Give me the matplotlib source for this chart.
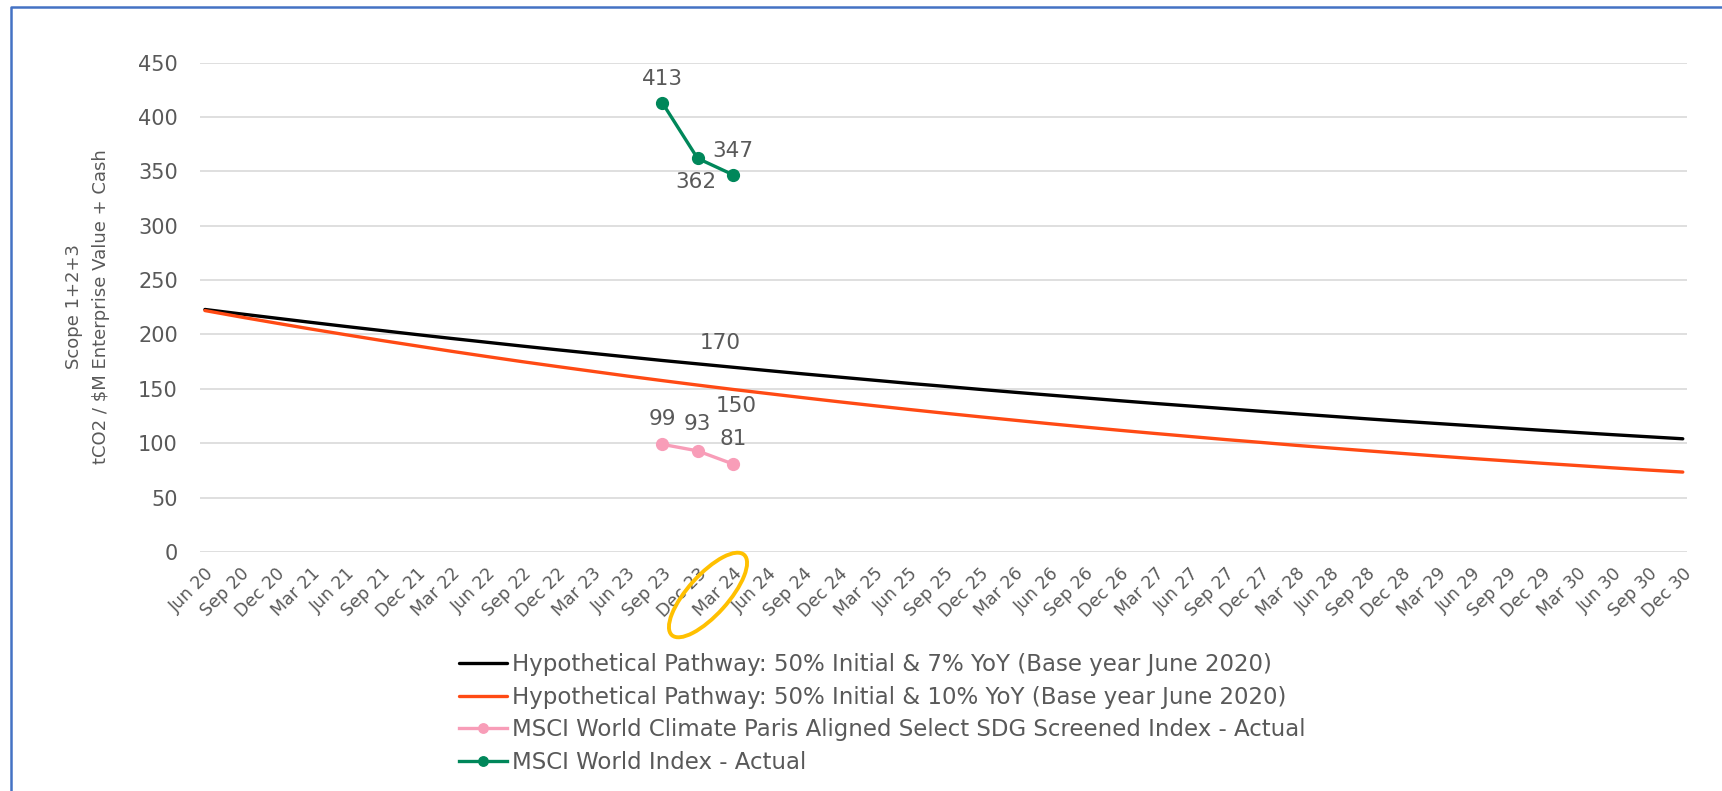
import matplotlib.pyplot as plt
from matplotlib.patches import Ellipse
from matplotlib.lines import Line2D
from matplotlib.transforms import IdentityTransform

# quarterly categories Jun 20 .. Dec 30
quarters = ['Jun 20', 'Sep 20', 'Dec 20',
            'Mar 21', 'Jun 21', 'Sep 21', 'Dec 21',
            'Mar 22', 'Jun 22', 'Sep 22', 'Dec 22',
            'Mar 23', 'Jun 23', 'Sep 23', 'Dec 23',
            'Mar 24', 'Jun 24', 'Sep 24', 'Dec 24',
            'Mar 25', 'Jun 25', 'Sep 25', 'Dec 25',
            'Mar 26', 'Jun 26', 'Sep 26', 'Dec 26',
            'Mar 27', 'Jun 27', 'Sep 27', 'Dec 27',
            'Mar 28', 'Jun 28', 'Sep 28', 'Dec 28',
            'Mar 29', 'Jun 29', 'Sep 29', 'Dec 29',
            'Mar 30', 'Jun 30', 'Sep 30', 'Dec 30']

path_7 = [223, 219.0, 215.1, 211.2, 207.4, 203.7, 200.0, 196.4, 192.9, 189.4,
          186.0, 182.7, 179.4, 176.1, 173.0, 169.9, 166.8, 163.8, 160.9, 158.0,
          155.1, 152.4, 149.6, 146.9, 144.3, 141.7, 139.1, 136.6, 134.2, 131.8,
          129.4, 127.1, 124.8, 122.5, 120.3, 118.2, 116.1, 114.0, 111.9, 109.9,
          107.9, 106.0, 104.1]
path_10 = [222, 216.2, 210.6, 205.1, 199.8, 194.6, 189.6, 184.6, 179.8, 175.1,
           170.6, 166.2, 161.8, 157.6, 153.5, 149.5, 145.7, 141.9, 138.2, 134.6,
           131.1, 127.7, 124.4, 121.2, 118.0, 114.9, 111.9, 109.0, 106.2, 103.4,
           100.8, 98.1, 95.6, 93.1, 90.7, 88.3, 86.0, 83.8, 81.6, 79.5,
           77.4, 75.4, 73.5]

actual_q = ['Sep 23', 'Dec 23', 'Mar 24']
paris = [99, 93, 81]
world = [413, 362, 347]

labels = ['Hypothetical Pathway: 50% Initial & 7% YoY (Base year June 2020)',
          'Hypothetical Pathway: 50% Initial & 10% YoY (Base year June 2020)',
          'MSCI World Climate Paris Aligned Select SDG Screened Index - Actual',
          'MSCI World Index - Actual']

grey = '#595959'
plt.rcParams['font.family'] = ['DejaVu Sans']

fig = plt.figure(figsize=(17.22, 7.91), dpi=100)
ax = fig.add_axes([200 / 1722, 1 - 552 / 791, (1687 - 200) / 1722, (552 - 62.6) / 791])

x = list(range(len(quarters)))
xa = [quarters.index(q) for q in actual_q]

ax.plot(x, path_7, color='black', lw=2.4, label=labels[0], solid_capstyle='round')
ax.plot(x, path_10, color='#FF4A14', lw=2.4, label=labels[1], solid_capstyle='round')
ax.plot(xa, paris, color='#F89DB8', lw=2.4, marker='o', ms=8.5, label=labels[2])
ax.plot(xa, world, color='#00875A', lw=2.4, marker='o', ms=8.5, label=labels[3])

# data labels
lab_kw = dict(textcoords='offset pixels', ha='center', va='center', color=grey, fontsize=15.5)
ax.annotate(str(world[0]), (xa[0], world[0]), xytext=(0, 24), **lab_kw)
ax.annotate(str(world[1]), (xa[1], world[1]), xytext=(-2, -24), **lab_kw)
ax.annotate(str(world[2]), (xa[2], world[2]), xytext=(0, 24), **lab_kw)
for xi, v, dy in zip(xa, paris, [25, 27, 25]):
    ax.annotate(str(v), (xi, v), xytext=(0, dy), **lab_kw)
i24 = quarters.index('Mar 24')
ax.annotate(str(round(path_7[i24])), (i24, path_7[i24]), xytext=(-13, 24), **lab_kw)
ax.annotate(str(round(path_10[i24])), (i24, path_10[i24]), xytext=(3, -17), **lab_kw)

ax.set_ylim(0, 450)
ax.set_yticks(range(0, 451, 50))
ax.set_xlim(-0.14, len(quarters) - 1 + 0.12)
ax.set_xticks(x)
ax.set_xticklabels(quarters, rotation=45, ha='right', rotation_mode='anchor')
ax.tick_params(axis='x', length=0, pad=9, labelsize=12.5, labelcolor=grey)
ax.tick_params(axis='y', length=0, pad=16, labelsize=15, labelcolor=grey)
ax.grid(axis='y', color='#D9D9D9', lw=1.2)
ax.set_axisbelow(True)
for s in ax.spines.values():
    s.set_visible(False)

fig.text(0.051, 0.612, 'Scope 1+2+3\ntCO2 / $M Enterprise Value + Cash', rotation=90,
         ha='center', va='center', color=grey, fontsize=13, linespacing=1.65)

ax.legend(loc='upper left', bbox_to_anchor=(459 / 1722, 1 - 653 / 791),
          bbox_transform=fig.transFigure, frameon=False, fontsize=16.5,
          handlelength=2.1, handletextpad=0.2, labelspacing=0.42, borderpad=0,
          borderaxespad=0, labelcolor=grey, markerscale=0.8)

# highlight ring round the Mar 24 tick label
fig.add_artist(Ellipse((708, 791 - 595), 40, 108, angle=-42, fill=False,
                       edgecolor='#FFC000', lw=2.8, transform=IdentityTransform()))

# blue frame (left and top edges)
fig.add_artist(Line2D([11 / 1722, 11 / 1722, 1], [0, 1 - 7 / 791, 1 - 7 / 791],
                      color='#4472C4', lw=1.8, transform=fig.transFigure))

fig.savefig('out.png', dpi=100)
